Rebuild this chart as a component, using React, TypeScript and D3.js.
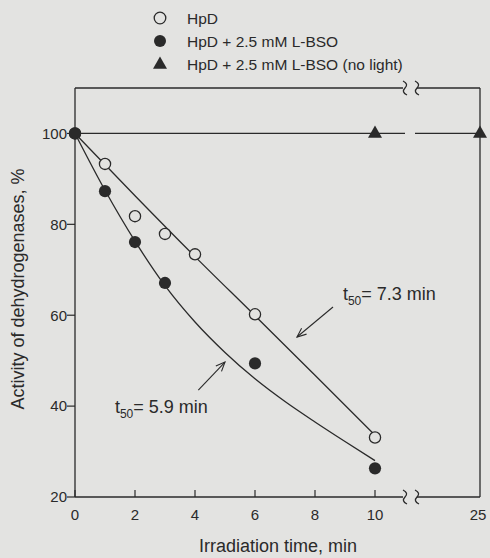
import React from "react";
import * as d3 from "d3";

// ---- data ----
const hpdTime = [0, 1, 2, 3, 4, 6, 10];
const hpdValues = [100, 93.3, 81.8, 77.9, 73.4, 60.2, 33.1];
const bsoTime = [0, 1, 2, 3, 6, 10];
const bsoValues = [100, 87.3, 76.1, 67.1, 49.4, 26.3];
const noLightTime = [10, 25];
const noLightValues = [100, 100];

const hpdFitTime = [0, 2, 4, 6, 8, 10];
const hpdFitValues = [100, 86.3, 72.9, 59.9, 46.8, 33.6];
const bsoFitTime = [0, 1, 2, 3, 4, 5, 6, 7, 8, 9, 10];
const bsoFitValues = [100, 87.5, 76.3, 66.5, 58.5, 51.8, 46, 41, 36.5, 32.2, 28];

const yTicks = [20, 40, 60, 80, 100];
const xTicksMain = [0, 2, 4, 6, 8, 10];
const xTicksBreak = [25];

const legendLabels = ["HpD", "HpD + 2.5 mM L-BSO", "HpD + 2.5 mM L-BSO (no light)"];
const xLabel = "Irradiation time, min";
const yLabel = "Activity of dehydrogenases, %";
const annotations = [
  { text: "7.3 min", tx: 8.93, ty: 63.3, from: [8.6, 61.8], to: [7.4, 55.2] },
  { text: "5.9 min", tx: 1.33, ty: 38.4, from: [4.11, 43.5], to: [5.0, 49.7] },
];

const W = 490, H = 558;
const BG = "#e3e3e1";
const INK = "#2a2a2a";
const FONT = "'Liberation Sans', Arial, Helvetica, sans-serif";

export default function App() {
  const left = 75, top = 88, right = 480, bottom = 497;
  const xMain = d3.scaleLinear().domain([0, 11]).range([left, 405]);
  const xBrk = d3.scaleLinear().domain([24, 25]).range([417, right]);
  const x = (t: number) => (t <= 11 ? xMain(t) : xBrk(t));
  const y = d3.scaleLinear().domain([20, 110]).range([bottom, top]);

  const line = d3
    .line<[number, number]>()
    .x((d) => x(d[0]))
    .y((d) => y(d[1]))
    .curve(d3.curveMonotoneX);

  const hpdFit = hpdFitTime.map((t, i) => [t, hpdFitValues[i]] as [number, number]);
  const bsoFit = bsoFitTime.map((t, i) => [t, bsoFitValues[i]] as [number, number]);

  const gapL = xMain(11);
  const gapR = xBrk(24);
  const squig = (cx: number, cy: number) =>
    `M${cx - 2},${cy - 7} Q${cx + 4},${cy - 4} ${cx},${cy} Q${cx - 4},${cy + 4} ${cx + 2},${cy + 7}`;

  const tri = (cx: number, cy: number, s = 7) =>
    `M${cx},${cy - s} L${cx + s},${cy + s * 0.75} L${cx - s},${cy + s * 0.75} Z`;

  const arrowHead = (x1: number, y1: number, x2: number, y2: number) => {
    const a = Math.atan2(y2 - y1, x2 - x1);
    const L = 10, sp = 0.4;
    const p1 = [x2 - L * Math.cos(a - sp), y2 - L * Math.sin(a - sp)];
    const p2 = [x2 - L * Math.cos(a + sp), y2 - L * Math.sin(a + sp)];
    return `M${p1[0]},${p1[1]} L${x2},${y2} L${p2[0]},${p2[1]}`;
  };

  const y100 = y(100);

  return (
    <svg
      width={W}
      height={H}
      style={{ position: "absolute", left: 0, top: 0, background: BG }}
      fontFamily={FONT}
    >
      <rect x={0} y={0} width={W} height={H} fill={BG} />

      {/* legend */}
      <g fill={INK} fontSize={15.5}>
        <circle cx={160} cy={18} r={5.8} fill={BG} stroke={INK} strokeWidth={1.3} />
        <circle cx={160} cy={41} r={6} fill={INK} />
        <path d={tri(160, 63.5)} fill={INK} />
        {legendLabels.map((l, i) => (
          <text key={l} x={187} y={18 + i * 23 + 5.5}>
            {l}
          </text>
        ))}
      </g>

      {/* frame with breaks */}
      <g stroke={INK} strokeWidth={1.3} fill="none">
        <line x1={left} y1={top} x2={left} y2={bottom} />
        <line x1={right} y1={top} x2={right} y2={bottom} />
        {[top, bottom].map((yy) => (
          <g key={yy}>
            <line x1={left} y1={yy} x2={gapL - 2} y2={yy} />
            <line x1={gapR} y1={yy} x2={right} y2={yy} />
            <path d={squig(gapL, yy)} />
            <path d={squig(gapR, yy)} />
          </g>
        ))}
      </g>

      {/* y ticks */}
      <g fontSize={15} fill={INK}>
        {yTicks.map((v) => (
          <g key={v}>
            <line x1={left - 8} x2={left} y1={y(v)} y2={y(v)} stroke={INK} strokeWidth={1.2} />
            <text x={left - 8} y={y(v) + 5.3} textAnchor="end">
              {v}
            </text>
          </g>
        ))}
      </g>

      {/* x ticks */}
      <g fontSize={15} fill={INK}>
        {xTicksMain.map((v) => (
          <g key={v}>
            <line x1={xMain(v)} x2={xMain(v)} y1={bottom} y2={bottom - 7} stroke={INK} strokeWidth={1.2} />
            <text x={xMain(v)} y={520} textAnchor="middle">
              {v}
            </text>
          </g>
        ))}
        {xTicksBreak.map((v) => (
          <text key={v} x={xBrk(v) - 2} y={520} textAnchor="middle">
            {v}
          </text>
        ))}
      </g>

      {/* axis labels */}
      <text x={278} y={552} textAnchor="middle" fontSize={18} fill={INK}>
        {xLabel}
      </text>
      <text
        transform={`translate(24,${289}) rotate(-90)`}
        textAnchor="middle"
        fontSize={18}
        fill={INK}
      >
        {yLabel}
      </text>

      {/* no-light line with gap */}
      <g stroke={INK} strokeWidth={1.3}>
        <line x1={left} x2={gapL} y1={y100} y2={y100} />
        <line x1={gapR - 2} x2={right} y1={y100} y2={y100} />
      </g>

      {/* fit curves */}
      <path d={line(hpdFit) || ""} fill="none" stroke={INK} strokeWidth={1.3} />
      <path d={line(bsoFit) || ""} fill="none" stroke={INK} strokeWidth={1.3} />

      {/* markers */}
      {hpdTime.map((t, i) => (
        <circle key={"h" + i} cx={x(t)} cy={y(hpdValues[i])} r={5.6} fill={BG} stroke={INK} strokeWidth={1.3} />
      ))}
      {bsoTime.map((t, i) => (
        <circle key={"b" + i} cx={x(t)} cy={y(bsoValues[i])} r={6.1} fill={INK} />
      ))}
      {noLightTime.map((t, i) => (
        <path key={"n" + i} d={tri(x(t), y(noLightValues[i]) - 1)} fill={INK} />
      ))}

      {/* annotations */}
      {annotations.map((a) => {
        const x1 = x(a.from[0]), y1 = y(a.from[1]);
        const x2 = x(a.to[0]), y2 = y(a.to[1]);
        return (
          <g key={a.text}>
            <line x1={x1} y1={y1} x2={x2} y2={y2} stroke={INK} strokeWidth={1.1} />
            <path d={arrowHead(x1, y1, x2, y2)} fill="none" stroke={INK} strokeWidth={1.1} />
            <text x={x(a.tx)} y={y(a.ty)} fontSize={18} fill={INK}>
              t
              <tspan fontSize={12} dy={5}>50</tspan>
              <tspan dy={-5}>{"= " + a.text}</tspan>
            </text>
          </g>
        );
      })}
    </svg>
  );
}
